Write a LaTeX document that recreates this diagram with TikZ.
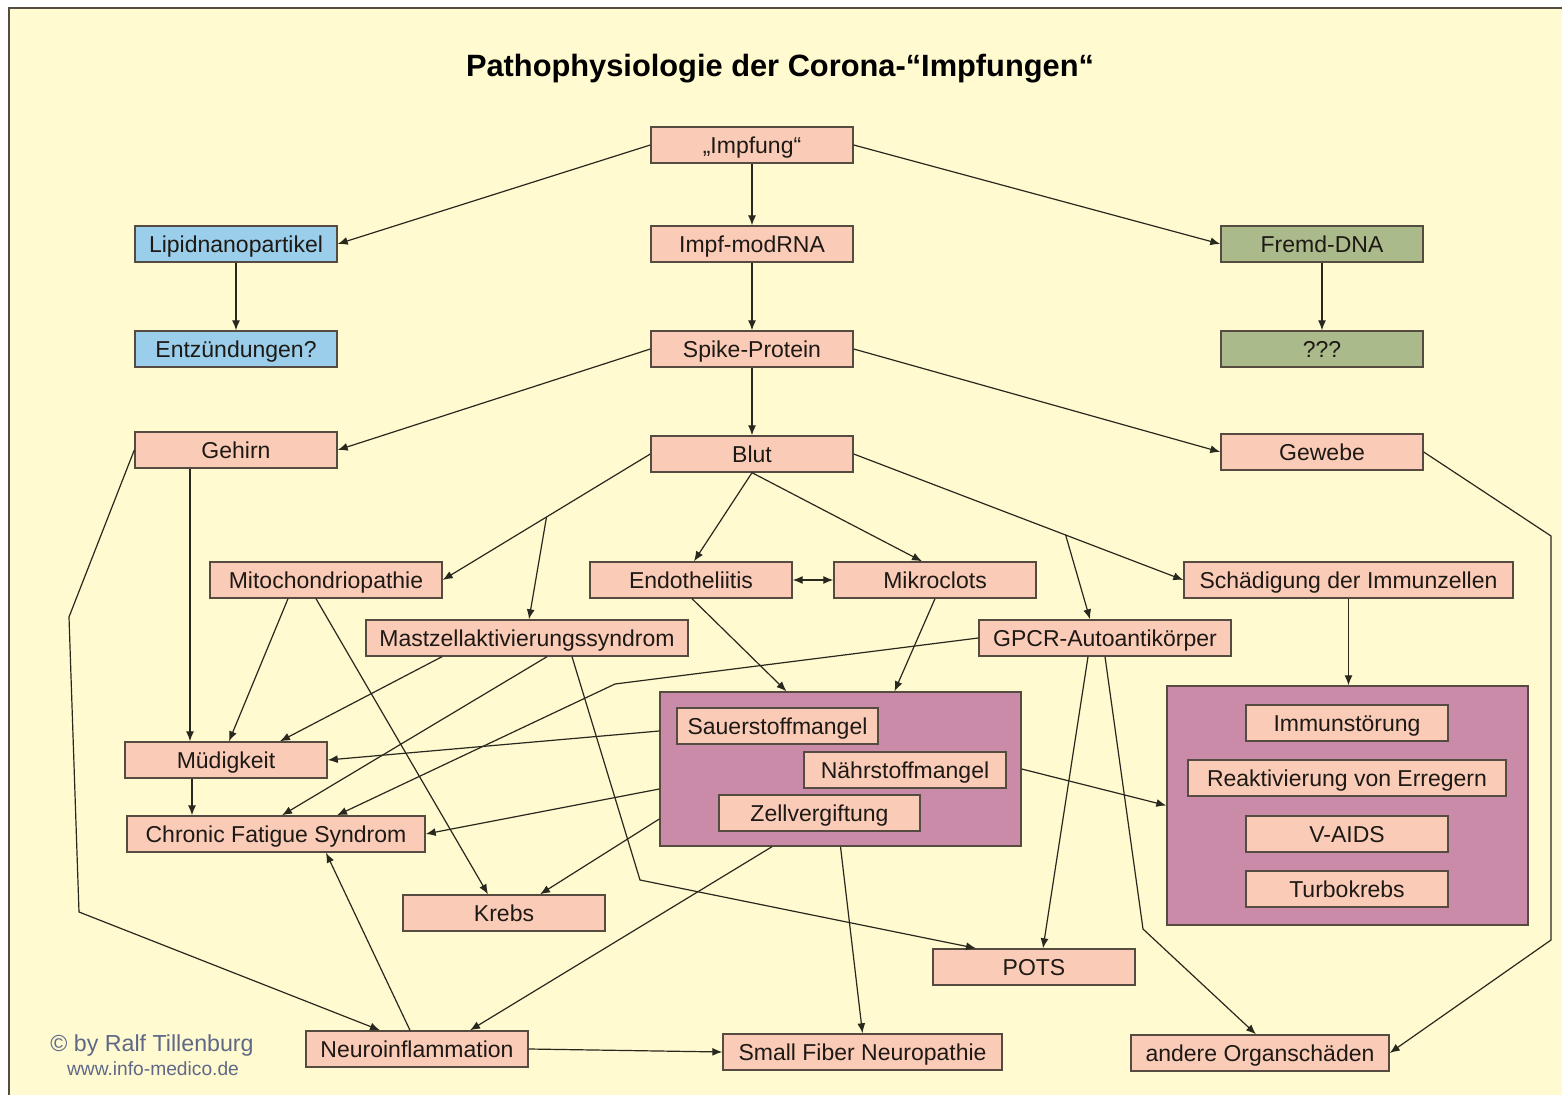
\documentclass[tikz,border=0pt]{standalone}
\usepackage{fontspec}
\setmainfont{Liberation Sans}
\usetikzlibrary{arrows.meta,calc}
\definecolor{bgyellow}{RGB}{255,250,208}
\definecolor{boxpink}{RGB}{250,204,184}
\definecolor{boxblue}{RGB}{154,206,235}
\definecolor{boxgreen}{RGB}{170,186,138}
\definecolor{boxpurple}{RGB}{201,139,167}
\definecolor{boxborder}{RGB}{85,75,65}
\definecolor{linecol}{RGB}{40,40,30}
\definecolor{copycol}{RGB}{95,105,135}
\definecolor{txtcol}{RGB}{30,25,20}
\begin{document}
\begin{tikzpicture}[x=0.5pt,y=-0.5pt,
  box/.style={draw=boxborder,line width=0.7pt,fill=boxpink,minimum height=18pt,inner sep=0pt,
    text height=8.3pt,text depth=0pt,
    minimum width=101pt,text=txtcol,font=\fontsize{11.5}{13}\selectfont},
  bluebox/.style={box,fill=boxblue},
  greenbox/.style={box,fill=boxgreen},
  groupbox/.style={draw=boxborder,line width=0.7pt,fill=boxpurple,inner sep=0pt},
  conn/.style={draw=linecol,line width=0.6pt,-{Latex[length=5pt,width=4pt]}},
  plainconn/.style={draw=linecol,line width=0.6pt}]
\useasboundingbox (0,0) rectangle (1562,1095);
\fill[white] (0,0) rectangle (1562,1095);
\fill[bgyellow] (9,8) rectangle (1562,1095);
\draw[boxborder,line width=0.9pt] (9,1095) -- (9,8) -- (1562,8);

\node[font=\bfseries\fontsize{15.4}{18}\selectfont,text=black] (title) at (780,69) {Pathophysiologie der Corona-“Impfungen“};

% top
\node[box] (impf) at (752,145) {„Impfung“};
\node[box] (mod) at (752,244) {Impf-modRNA};
\node[box] (spike) at (752,349) {Spike-Protein};
\node[box] (blut) at (752,454) {Blut};
\node[bluebox] (lipid) at (236,244) {Lipidnanopartikel};
\node[bluebox] (entz) at (236,349) {Entzündungen?};
\node[greenbox] (fremd) at (1322,244) {Fremd-DNA};
\node[greenbox] (qqq) at (1322,349) {???};
\node[box] (gehirn) at (236,450) {Gehirn};
\node[box] (gewebe) at (1322,452) {Gewebe};

% middle
\node[box,minimum width=116pt] (mito) at (326,580) {Mitochondriopathie};
\node[box] (endo) at (691,580) {Endotheliitis};
\node[box] (mikro) at (935,580) {Mikroclots};
\node[box,minimum width=164.5pt] (schaed) at (1348.5,580) {Schädigung der Immunzellen};
\node[box,minimum width=161pt] (mast) at (527,638) {Mastzellaktivierungssyndrom};
\node[box,minimum width=126pt] (gpcr) at (1105,638) {GPCR-Autoantikörper};

% purple groups
\node[groupbox,minimum width=180.5pt,minimum height=77pt] (p1) at (840.5,769) {};
\node[box,minimum width=100.5pt] (sauer) at (777.5,726) {Sauerstoffmangel};
\node[box] (naehr) at (905,770) {Nährstoffmangel};
\node[box,minimum width=100.5pt] (zell) at (819.5,813) {Zellvergiftung};

\node[groupbox,minimum width=180.5pt,minimum height=119.5pt] (p2) at (1347.5,805.5) {};
\node[box] (immun) at (1347,723) {Immunstörung};
\node[box,minimum width=159pt] (reakt) at (1347,778) {Reaktivierung von Erregern};
\node[box] (vaids) at (1347,834) {V-AIDS};
\node[box] (turbo) at (1347,889) {Turbokrebs};

% lower
\node[box] (muedig) at (226,760) {Müdigkeit};
\node[box,minimum width=149pt] (cfs) at (276,834) {Chronic Fatigue Syndrom};
\node[box] (krebs) at (504,913) {Krebs};
\node[box] (pots) at (1034,967) {POTS};
\node[box,minimum width=111pt] (neuro) at (417,1049) {Neuroinflammation};
\node[box,minimum width=139.5pt] (sfn) at (862.5,1052) {Small Fiber Neuropathie};
\node[box,minimum width=129pt] (andere) at (1260,1053) {andere Organschäden};

\node[text=copycol,font=\fontsize{11.6}{13}\selectfont] (copy1) at (152,1045) {© by Ralf Tillenburg};
\node[text=copycol,font=\fontsize{9.6}{11}\selectfont] (copy2) at (153,1069) {www.info-medico.de};

% bend / branch coordinates
\coordinate (g1) at (69,617);
\coordinate (g2) at (79,912);
\coordinate (b1) at ($(blut.west)!0.5!(mito.east)$);
\coordinate (b2) at ($(blut.east)!0.643!(schaed.west)$);
\coordinate (gp1) at (615,684);
\coordinate (m1) at (640,880);
\coordinate (gp2) at (1143,929);
\coordinate (gw1) at (1551,536);
\coordinate (gw2) at (1551,940);

% connectors
\draw[conn] (impf.west) -- (lipid.east);
\draw[conn] (impf.south) -- (mod.north);
\draw[conn] (impf.east) -- (fremd.west);
\draw[conn] (mod.south) -- (spike.north);
\draw[conn] (lipid.south) -- (entz.north);
\draw[conn] (fremd.south) -- (qqq.north);
\draw[conn] (spike.west) -- (gehirn.east);
\draw[conn] (spike.south) -- (blut.north);
\draw[conn] (spike.east) -- (gewebe.west);

\draw[conn] ([xshift=-23pt]gehirn.south) -- ([xshift=-23pt]gehirn.south |- muedig.north);
\draw[conn] (gehirn.west) -- (g1) -- (g2) -- ([xshift=-18.5pt]neuro.north);

\draw[conn] (blut.west) -- (mito.east);
\draw[conn] (b1) -- ([xshift=1pt]mast.north);
\draw[conn] (blut.south) -- ([xshift=1.5pt]endo.north);
\draw[conn] (blut.south) -- ([xshift=-6.5pt]mikro.north);
\draw[conn] (blut.east) -- (schaed.west);
\draw[conn] (b2) -- ([xshift=-7.5pt]gpcr.north);
\draw[draw=linecol,line width=0.6pt,{Latex[length=5pt,width=4pt]}-{Latex[length=5pt,width=4pt]}] (endo.east) -- (mikro.west);

\draw[conn] ([xshift=0.5pt]endo.south) -- ([xshift=-27pt]p1.north);
\draw[conn] (mikro.south) -- ([xshift=27pt]p1.north);
\draw[conn] (schaed.south) -- (schaed.south |- p2.north);

\draw[conn] (gpcr.west) -- (gp1) -- ([xshift=30.5pt]cfs.north);
\draw[conn] ([xshift=-42.5pt]mast.south) -- ([xshift=27pt]muedig.north);
\draw[conn] ([xshift=10pt]mast.south) -- ([xshift=3pt]cfs.north);
\draw[conn] ([xshift=22.5pt]mast.south) -- (m1) -- ([xshift=-29pt]pots.north);

\draw[conn] ([xshift=-19pt]mito.south) -- ([xshift=1.5pt]muedig.north);
\draw[conn] ([xshift=-5pt]mito.south) -- ([xshift=-8pt]krebs.north);

\draw[conn] ([yshift=19pt]p1.west) -- (muedig.east);
\draw[conn] ([yshift=-10pt]p1.west) -- (cfs.east);
\draw[conn] ([yshift=-25pt]p1.west) -- ([xshift=18pt]krebs.north);
\draw[conn] ([xshift=-34.25pt]p1.south) -- ([xshift=26.5pt]neuro.north);
\draw[conn] (p1.south) -- (sfn.north);
\draw[conn] (p1.east) -- (p2.west);

\draw[conn] ([xshift=-8.5pt]gpcr.south) -- ([xshift=4.5pt]pots.north);
\draw[conn] (gpcr.south) -- (gp2) -- ([xshift=-2pt]andere.north);
\draw[conn] (gewebe.east) -- (gw1) -- (gw2) -- (andere.east);

\draw[conn] ([xshift=-17pt]muedig.south) -- ([xshift=-17pt]muedig.south |- cfs.north);
\draw[conn] ([xshift=-3.5pt]neuro.north) -- ([xshift=25pt]cfs.south);
\draw[conn] (neuro.east) -- (sfn.west);
\end{tikzpicture}
\end{document}
